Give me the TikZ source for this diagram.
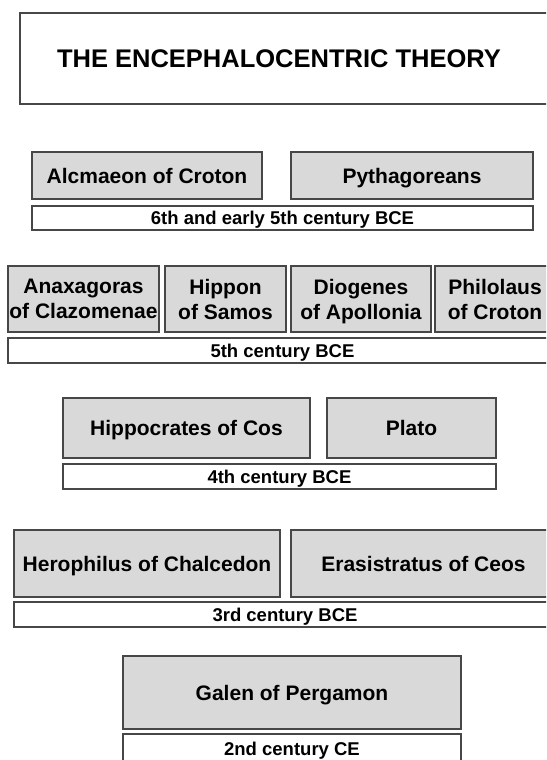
\documentclass[tikz,border=0pt]{standalone}
\usepackage{fontspec}
\setmainfont{Liberation Sans}
\begin{document}
\begin{tikzpicture}[x=1pt,y=-1pt,
  frame/.style={draw=black!72, line width=1.2pt, inner sep=0pt},
  namebox/.style={frame, fill=black!15, align=center,
    font=\bfseries\fontsize{21}{25}\selectfont},
  oneline/.style={text height=15pt, text depth=0pt},
  centbox/.style={frame, fill=white, text height=13.3pt, text depth=0pt,
    font=\bfseries\fontsize{18.5}{22}\selectfont},
  titlebox/.style={frame, fill=white},
  titletext/.style={inner sep=0pt, text height=18.3pt, text depth=0pt,
    font=\bfseries\fontsize{25.5}{30}\selectfont}]
\useasboundingbox (0,0) rectangle (546,760);
\clip (0,0) rectangle (546,760);

% title
\node[titlebox, minimum width=540pt, minimum height=91pt] (title) at (290,58.5) {};
\node[titletext] (titletxt) at (279,58.5) {THE ENCEPHALOCENTRIC THEORY};

% row 1
\node[namebox, oneline, minimum width=230pt, minimum height=47pt] (alcmaeon) at (147,175.5) {Alcmaeon of Croton};
\node[namebox, oneline, minimum width=242pt, minimum height=47pt] (pyth) at (412,175.5) {Pythagoreans};
\node[centbox, minimum width=501pt, minimum height=24pt] (c6) at (282.5,218) {6th and early 5th century BCE};

% row 2
\node[namebox, minimum width=151pt, minimum height=66pt] (anax) at (83.5,299) {Anaxagoras\\of Clazomenae};
\node[namebox, minimum width=121pt, minimum height=66pt] (hippon) at (225.5,299) {Hippon\\of Samos};
\node[namebox, minimum width=140pt, minimum height=66pt] (diog) at (361,299) {Diogenes\\\raisebox{0pt}[\height][0pt]{of Apollonia}};
\node[namebox, minimum width=120pt, minimum height=66pt] (philo) at (495,299) {Philolaus\\of Croton};
\node[centbox, minimum width=549pt, minimum height=25pt] (c5) at (282.5,350.5) {5th century BCE};

% row 3
\node[namebox, oneline, minimum width=247pt, minimum height=60pt] (hippo) at (186.5,428) {Hippocrates of Cos};
\node[namebox, oneline, minimum width=169pt, minimum height=60pt] (plato) at (411.5,428) {Plato};
\node[centbox, minimum width=433pt, minimum height=25pt] (c4) at (279.5,476.5) {4th century BCE};

% row 4
\node[namebox, oneline, minimum width=266pt, minimum height=67pt] (hero) at (147,563.5) {Herophilus of Chalcedon};
\node[namebox, oneline, minimum width=265pt, minimum height=67pt] (eras) at (423.5,563.5) {Erasistratus of Ceos};
\node[centbox, minimum width=542pt, minimum height=25pt] (c3) at (285,614.5) {3rd century BCE};

% row 5
\node[namebox, oneline, minimum width=338pt, minimum height=73pt] (galen) at (292,692.5) {Galen of Pergamon};
\node[centbox, minimum width=338pt, minimum height=30pt] (c2) at (292,749) {2nd century CE};
\end{tikzpicture}
\end{document}
